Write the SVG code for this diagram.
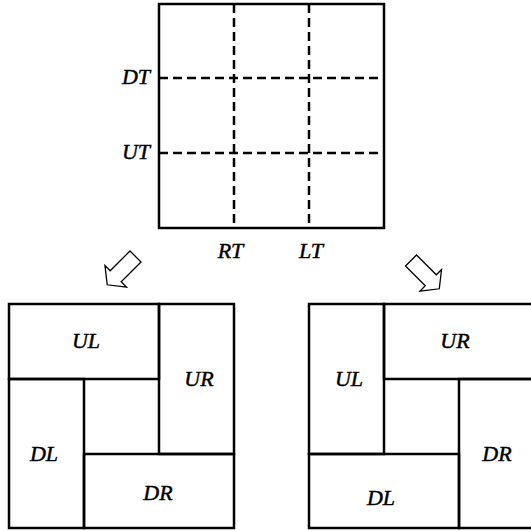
<svg xmlns="http://www.w3.org/2000/svg" width="531" height="531" viewBox="0 0 531 531">
<style>
.box{fill:none;stroke:#000;stroke-width:2.5}
.dash{fill:none;stroke:#000;stroke-width:2.5;stroke-dasharray:9,5}
.arr{fill:#fff;stroke:#000;stroke-width:1.3;stroke-linejoin:miter}
.c{text-anchor:middle}
.e{text-anchor:end}
.t{stroke:#000;stroke-width:0.45}
</style>
<defs>
<polygon id="arrow" points="0,-7.8 28,-7.8 28,-15.2 40,0 28,15.2 28,7.8 0,7.8"/>
</defs>
<rect width="531" height="531" fill="#fff"/>
<g font-family="Liberation Serif" font-style="italic" font-size="22" fill="#000">
<g id="grid">
<rect class="box" x="159" y="4" width="225" height="224"/>
<line class="dash" x1="234" y1="4" x2="234" y2="228"/>
<line class="dash" x1="309" y1="4" x2="309" y2="228"/>
<line class="dash" x1="159" y1="78" x2="384" y2="78"/>
<line class="dash" x1="159" y1="153" x2="384" y2="153"/>
<text class="e t" x="150" y="84">DT</text>
<text class="e t" x="150" y="159">UT</text>
<text class="c t" x="230.5" y="258">RT</text>
<text class="c t" x="311" y="258">LT</text>
</g>
<g id="connectors">
<use href="#arrow" class="arr" transform="translate(135.5,256.5) rotate(135)"/>
<use href="#arrow" class="arr" transform="translate(411,260.5) rotate(45)"/>
</g>
<g id="left">
<rect class="box" x="9" y="304" width="150" height="75"/>
<rect class="box" x="159" y="304" width="75" height="150"/>
<rect class="box" x="9" y="379" width="75" height="149"/>
<rect class="box" x="84" y="454" width="150" height="74"/>
<text class="c t" x="86" y="348">UL</text>
<text class="c t" x="199" y="386">UR</text>
<text class="c t" x="44" y="461">DL</text>
<text class="c t" x="158" y="500">DR</text>
</g>
<g id="right">
<rect class="box" x="309" y="304" width="75" height="150"/>
<rect class="box" x="384" y="304" width="150" height="75"/>
<rect class="box" x="309" y="454" width="150" height="74"/>
<rect class="box" x="459" y="379" width="75" height="149"/>
<text class="c t" x="455" y="348">UR</text>
<text class="c t" x="349" y="386">UL</text>
<text class="c t" x="497" y="461">DR</text>
<text class="c t" x="381" y="505">DL</text>
</g>
</g>
</svg>
